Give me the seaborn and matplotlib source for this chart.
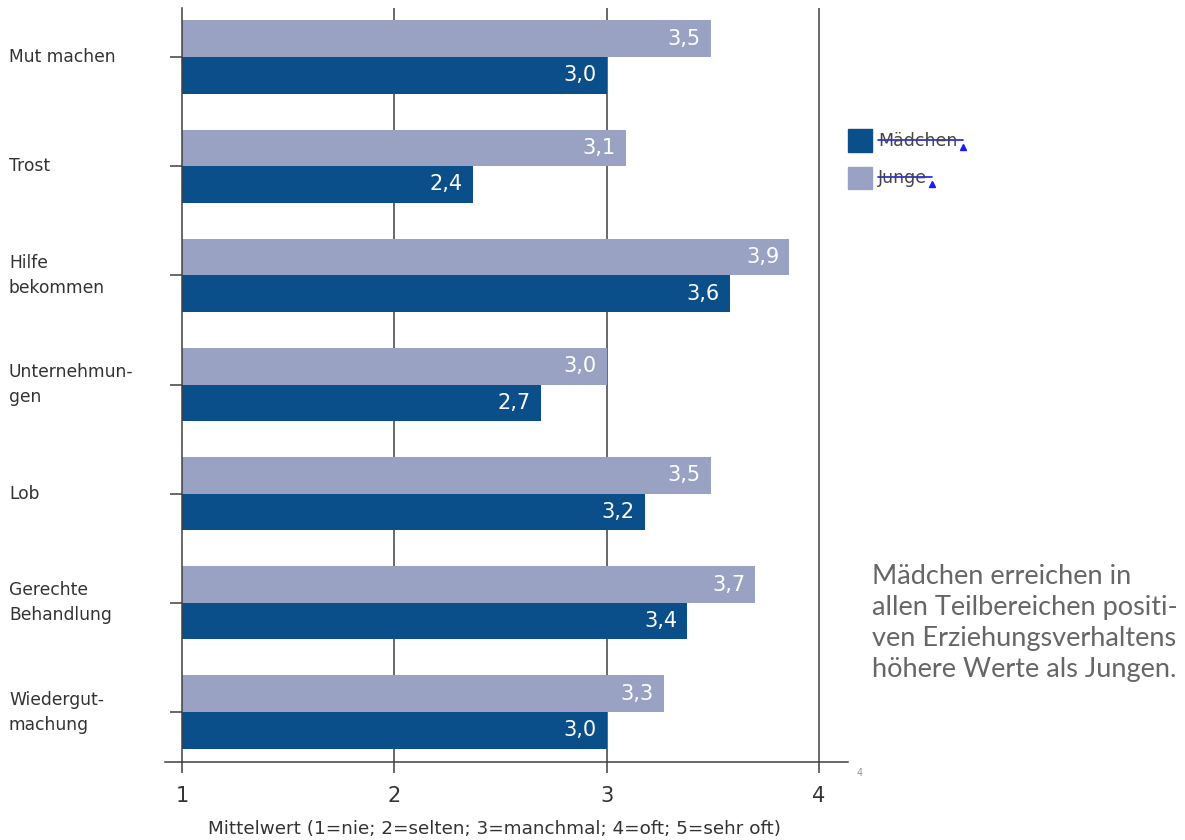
import matplotlib
matplotlib.use("Agg")
import matplotlib.pyplot as plt
import matplotlib.transforms as mtransforms
from matplotlib.patches import Rectangle
from matplotlib.lines import Line2D
import seaborn as sns
import pandas as pd

categories = ["Mut machen", "Trost", "Hilfe bekommen", "Unternehmungen", "Lob",
              "Gerechte Behandlung", "Wiedergutmachung"]
cat_labels = ["Mut machen", "Trost", "Hilfe\nbekommen", "Unternehmun-\ngen", "Lob",
              "Gerechte\nBehandlung", "Wiedergut-\nmachung"]
maedchen = [3.0, 2.37, 3.58, 2.69, 3.18, 3.38, 3.0]
junge = [3.49, 3.09, 3.86, 3.0, 3.49, 3.70, 3.27]
xticks = [1, 2, 3, 4]

C_M = "#0B4F8A"
C_J = "#9AA2C4"
LINE = "#404040"
TXT = "#333333"

sns.set_theme(style="white")
plt.rcParams['font.family'] = ['DejaVu Sans']

df = pd.DataFrame({
    "Kategorie": categories * 2,
    "Wert": junge + maedchen,
    "Gruppe": ["Junge"] * len(categories) + ["Mädchen"] * len(categories),
})

fig = plt.figure(figsize=(11.85, 8.40), dpi=100)
ax = fig.add_axes([165 / 1185, 1 - 762 / 840, 683 / 1185, (762 - 8) / 840])

sns.barplot(data=df, y="Kategorie", x="Wert", hue="Gruppe", hue_order=["Junge", "Mädchen"],
            palette={"Junge": C_J, "Mädchen": C_M}, orient="h", width=0.67,
            order=categories, ax=ax, legend=False, saturation=1)

ax.set_xlim(0.92, 4.1366)
ax.set_ylim(6.458, -0.449)

# bars start at 1
for cont in ax.containers:
    for p in cont.patches:
        w = p.get_width()
        p.set_x(1)
        p.set_width(w - 1)
        p.set_linewidth(0)

# value labels
off = mtransforms.offset_copy(ax.transData, fig=fig, x=-10, y=0, units='dots')
for cont, vals in zip(ax.containers, [junge, maedchen]):
    for p, v in zip(cont.patches, vals):
        ax.text(p.get_x() + p.get_width(), p.get_y() + p.get_height() / 2,
                f"{v:.1f}".replace(".", ","), transform=off, ha="right", va="center",
                color="white", fontsize=15)

# spines / grid
for s in ["top", "right"]:
    ax.spines[s].set_visible(False)
ax.spines["left"].set_position(("data", 1))
ax.spines["left"].set_color(LINE)
ax.spines["left"].set_linewidth(1.1)
ax.spines["bottom"].set_color(LINE)
ax.spines["bottom"].set_linewidth(1.1)
for xv in xticks[1:]:
    ax.axvline(xv, color=LINE, lw=1.1, zorder=0)

ax.set_xticks(xticks)
ax.set_xticklabels([str(x) for x in xticks], fontsize=15, color=TXT)
ax.tick_params(axis="x", direction="out", length=8, width=1.1, color=LINE, pad=9, bottom=True)
ax.tick_params(axis="y", direction="out", length=8.5, width=1.1, color=LINE, left=True)
ax.set_yticks(range(len(categories)))
ax.set_yticklabels([""] * len(categories))
ax.set_ylabel("")
ax.set_xlabel("")

fig.text(494 / 1185, 1 - 829 / 840, "Mittelwert (1=nie; 2=selten; 3=manchmal; 4=oft; 5=sehr oft)",
         ha="center", va="center", fontsize=13.2, color=TXT)

ytrans = mtransforms.blended_transform_factory(fig.transFigure, ax.transData)
for i, lab in enumerate(cat_labels):
    ax.text(9 / 1185, i, lab, transform=ytrans, ha="left", va="center",
            fontsize=12.3, color=TXT, linespacing=1.5)

# legend (manual)
for (lab, col, ytop, ybot, xend) in [("Mädchen", C_M, 129, 152, 963), ("Junge", C_J, 167, 189, 932)]:
    fig.patches.append(Rectangle((848 / 1185, 1 - ybot / 840), 24 / 1185, (ybot - ytop) / 840,
                                 transform=fig.transFigure, color=col))
    yc = (ytop + ybot) / 2
    fig.text(878 / 1185, 1 - yc / 840, lab, ha="left", va="center", fontsize=12.5, color="#444444")
    fig.lines.append(Line2D([878 / 1185, xend / 1185], [1 - (yc - 1) / 840] * 2,
                            transform=fig.transFigure, color="#1a1aff", lw=1.2))
    fig.lines.append(Line2D([xend / 1185], [1 - (yc + 6) / 840], transform=fig.transFigure,
                            marker="^", color="#1a1aff", markersize=5, lw=0))

fig.text(860 / 1185, 1 - 773 / 840, "4", fontsize=7, color="#999999", ha="center", va="center")

fig.text(872 / 1185, 1 - 623 / 840,
         "Mädchen erreichen in\nallen Teilbereichen positi-\nven Erziehungsverhaltens\nhöhere Werte als Jungen.",
         ha="left", va="center", fontsize=19.5, color="#666666", family="Lato",
         fontweight="normal", linespacing=1.3)

fig.savefig("out.png", dpi=100)
